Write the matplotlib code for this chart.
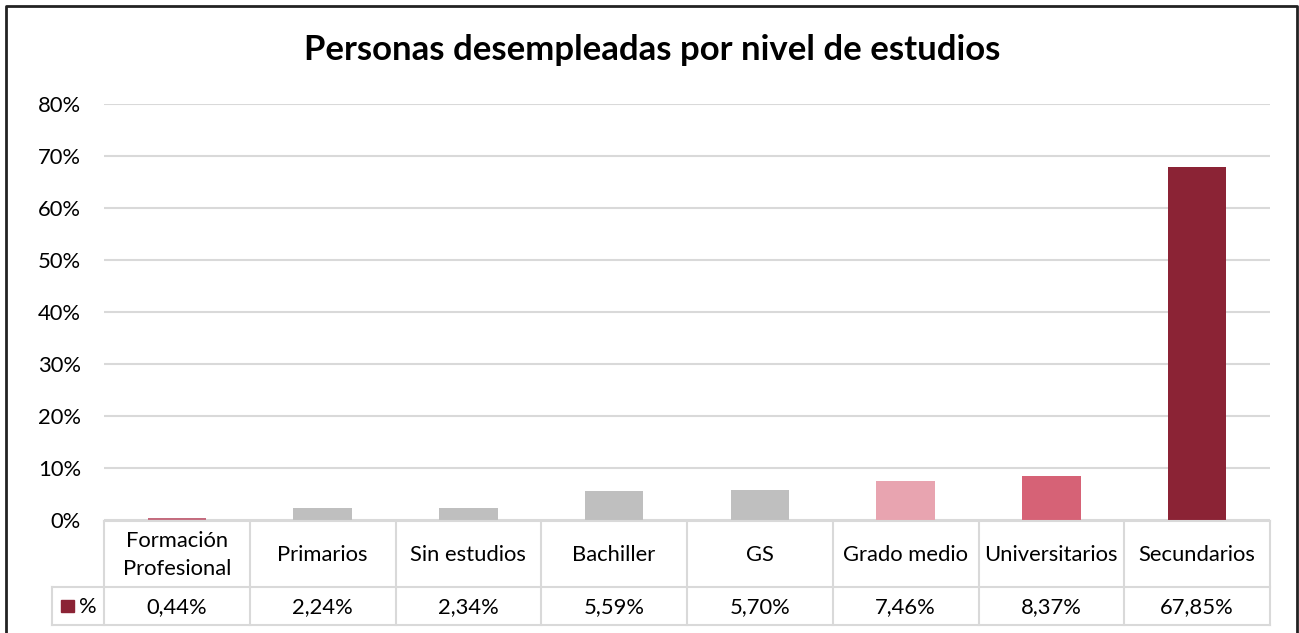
import matplotlib
matplotlib.use("Agg")
import matplotlib.pyplot as plt
from matplotlib.lines import Line2D
from matplotlib.patches import Rectangle
from matplotlib.transforms import blended_transform_factory, Affine2D

categories = ["Formación\nProfesional", "Primarios", "Sin estudios", "Bachiller", "GS",
              "Grado medio", "Universitarios", "Secundarios"]
values = [0.44, 2.24, 2.34, 5.59, 5.70, 7.46, 8.37, 67.85]
value_labels = ["0,44%", "2,24%", "2,34%", "5,59%", "5,70%", "7,46%", "8,37%", "67,85%"]
bar_colors = ["#c46b7e", "#bfbfbf", "#bfbfbf", "#bfbfbf", "#bfbfbf", "#e8a4b0", "#d66276", "#8b2335"]
yticks = [0, 10, 20, 30, 40, 50, 60, 70, 80]
ytick_labels = ["0%", "10%", "20%", "30%", "40%", "50%", "60%", "70%", "80%"]
series_name = "%"
title = "Personas desempleadas por nivel de estudios"

W, H = 1299, 633
plt.rcParams['font.family'] = ['Lato', 'DejaVu Sans']
fig = plt.figure(figsize=(W / 100, H / 100), dpi=100)
fig.patch.set_facecolor("white")

FS = 15.8
x0, x1 = 104, 1270
ytop, ybot = 104, 520
ax = fig.add_axes([x0 / W, 1 - ybot / H, (x1 - x0) / W, (ybot - ytop) / H])
n = len(categories)
xs = list(range(n))
ax.bar(xs, values, width=0.4, color=bar_colors, zorder=3)
ax.set_xlim(-0.5, n - 0.5)
ax.set_ylim(0, 80)
ax.set_yticks(yticks)
ax.set_yticklabels(ytick_labels, fontsize=FS, color="#000000")
ax.tick_params(axis="y", length=0, pad=16.5)
ax.tick_params(axis="x", length=0, labelbottom=False)
ax.grid(axis="y", color="#d9d9d9", linewidth=1.5, zorder=0)
for s in ax.spines.values():
    s.set_visible(False)

# Pixel transform (top-left origin)
pix = Affine2D().scale(1 / W, -1 / H).translate(0, 1) + fig.transFigure
bl = blended_transform_factory(ax.transData, pix)

gc = "#d9d9d9"
lw = 1.5
t_top, t_mid, t_bot = 521, 587, 625
fig.add_artist(Line2D([-0.5, n - 0.5], [t_top, t_top], transform=bl, color=gc, lw=lw))
fig.add_artist(Line2D([52, x1], [t_mid, t_mid], transform=pix, color=gc, lw=lw))
fig.add_artist(Line2D([52, x1], [t_bot, t_bot], transform=pix, color=gc, lw=lw))
fig.add_artist(Line2D([52, 52], [t_mid, t_bot], transform=pix, color=gc, lw=lw))
for k in range(n + 1):
    xv = -0.5 + k
    fig.add_artist(Line2D([xv, xv], [t_top, t_bot], transform=bl, color=gc, lw=lw))

for i, (c, v) in enumerate(zip(categories, value_labels)):
    fig.text(i, (t_top + t_mid) / 2 + 1, c, transform=bl, ha="center", va="center",
             fontsize=FS, linespacing=1.5)
    fig.text(i, (t_mid + t_bot) / 2 + 1, v, transform=bl, ha="center", va="center", fontsize=FS)

fig.add_artist(Rectangle((61, 612), 13, -12, transform=pix, color=bar_colors[-1]))
fig.text(79, (t_mid + t_bot) / 2 + 1, series_name, transform=pix, ha="left", va="center", fontsize=FS)

fig.text(652 / W, 1 - 50 / H, title, ha="center", va="center", fontsize=25, fontweight="bold")

fig.add_artist(Line2D([6, 6, 1297, 1297], [H + 5, 6, 6, H + 5], transform=pix, color="#222222", lw=2))

fig.savefig("out.png", dpi=100, facecolor="white")
